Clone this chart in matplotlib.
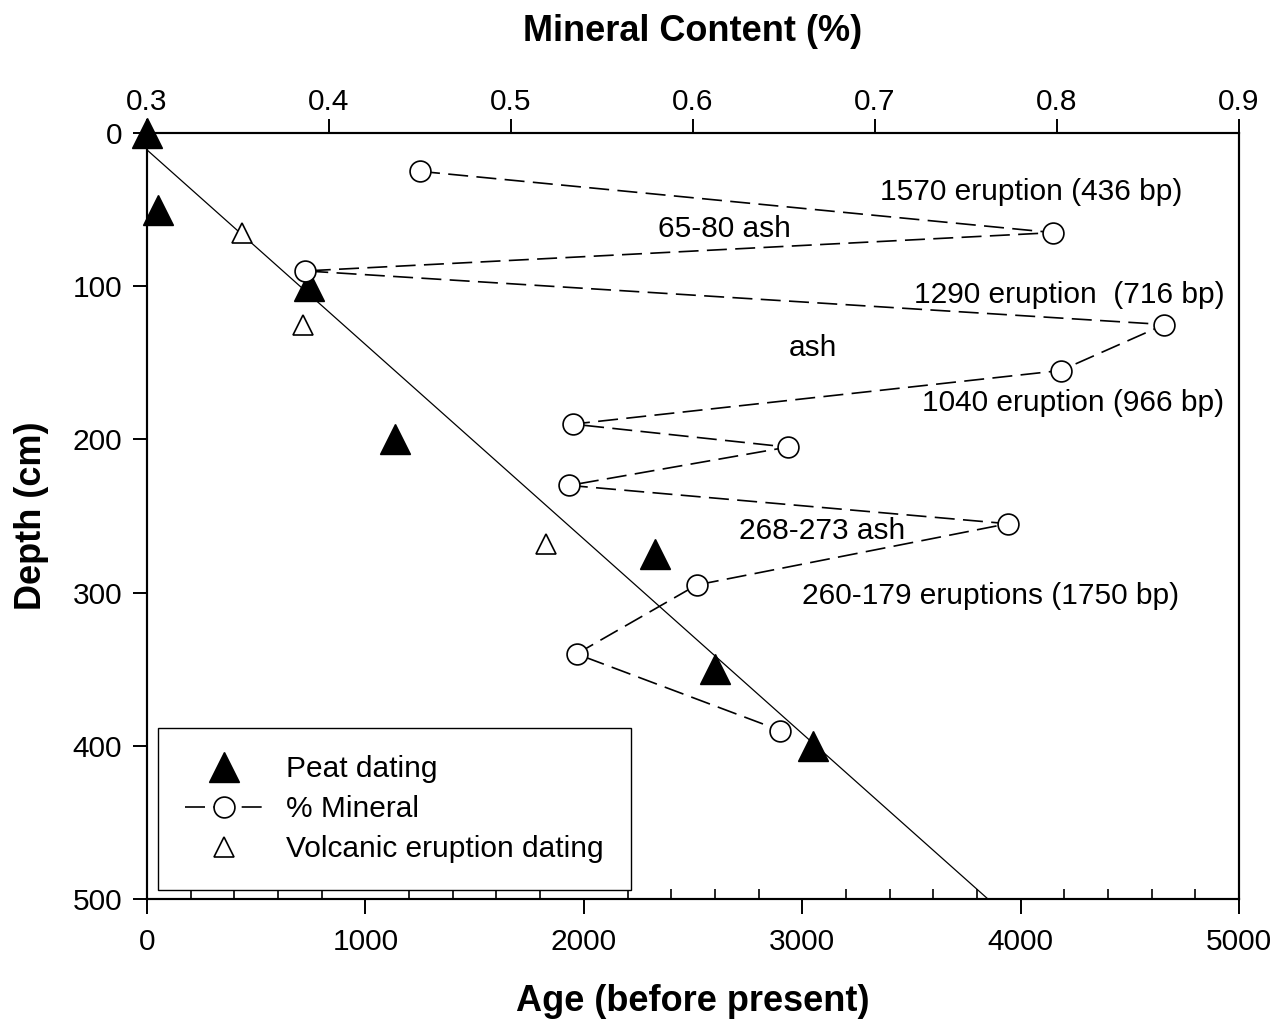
import matplotlib
matplotlib.use("Agg")
import matplotlib.pyplot as plt
from matplotlib.ticker import MultipleLocator, FormatStrFormatter
import numpy as np

plt.rcParams['font.family'] = ['Liberation Sans', 'DejaVu Sans']

# peat dating (age bp, depth cm)
peat_age = [0, 50, 742, 1135, 2326, 2600, 3050]
peat_depth = [0, 50, 100, 200, 275, 350, 400]

# volcanic eruption dating
volc_age = [436, 716, 1827]
volc_depth = [65, 125, 268]

# mineral content profile (fraction, depth cm)
mineral = [0.450, 0.798, 0.387, 0.859, 0.802, 0.534, 0.652, 0.532, 0.773, 0.602, 0.536, 0.648]
mineral_depth = [25, 65, 90, 125, 155, 190, 205, 230, 255, 295, 340, 390]

# age-depth line: depth = fit_b + fit_m * age
fit_b = 11.0
fit_m = 0.127

notes = ["1570 eruption (436 bp)", "65-80 ash", "1290 eruption  (716 bp)", "ash",
         "1040 eruption (966 bp)", "268-273 ash", "260-179 eruptions (1750 bp)"]
note_age = [4048, 2646, 4222, 3050, 4240, 3091, 3860]
note_depth = [38.5, 62.7, 105.7, 140, 176, 260, 302]

fs = 21.5

fig = plt.figure(figsize=(12.86, 10.29), dpi=100)
ax = fig.add_axes([0.1143, 0.1263, 0.8492, 0.7444])
ax2 = ax.twiny()

line_age = np.array([0, 5000])
ax.plot(line_age, fit_b + fit_m * line_age, color='black', lw=0.9, zorder=2)
ax.plot(peat_age, peat_depth, ls='none', marker='^', ms=21, color='black',
        clip_on=False, zorder=4, label='Peat dating')
ax.plot(volc_age, volc_depth, ls='none', marker='^', ms=14, mfc='white', mec='black',
        mew=1.2, clip_on=False, zorder=4, label='Volcanic eruption dating')

ax2.plot(mineral, mineral_depth, color='black', lw=1.2, ls=(0, (12, 5)), marker='o', ms=15,
         mfc='white', mec='black', mew=1.2, clip_on=False, label='% Mineral')

for t, a, d in zip(notes, note_age, note_depth):
    ax.text(a, d, t, fontsize=fs, ha='center', va='center', zorder=6)

ax.set_xlim(0, 5000)
ax.set_ylim(500, 0)
ax2.set_xlim(0.3, 0.9)

ax.xaxis.set_major_locator(MultipleLocator(1000))
ax.xaxis.set_minor_locator(MultipleLocator(200))
ax.yaxis.set_major_locator(MultipleLocator(100))
ax2.xaxis.set_major_locator(MultipleLocator(0.1))
ax2.xaxis.set_major_formatter(FormatStrFormatter('%.1f'))

ax.tick_params(axis='x', which='major', direction='out', length=11, width=1.4,
               labelsize=fs, pad=10)
ax.tick_params(axis='x', which='minor', direction='in', length=7, width=1.2)
ax.tick_params(axis='y', which='major', direction='out', length=10, width=1.4,
               labelsize=fs, pad=8)
ax2.tick_params(axis='x', which='major', direction='out', length=10, width=1.4,
                labelsize=fs, pad=2)

for a in (ax, ax2):
    for s in a.spines.values():
        s.set_linewidth(1.5)

ax.set_xlabel('Age (before present)', fontsize=26, fontweight='bold', labelpad=20)
ax.set_ylabel('Depth (cm)', fontsize=26, fontweight='bold', labelpad=17)
ax2.set_xlabel('Mineral Content (%)', fontsize=26, fontweight='bold', labelpad=34)

h1, l1 = ax.get_legend_handles_labels()
h2, l2 = ax2.get_legend_handles_labels()
leg = ax2.legend([h1[0], h2[0], h1[1]], [l1[0], l2[0], l1[1]], loc='lower left',
                 bbox_to_anchor=(0.01, 0.012), fontsize=fs, fancybox=False,
                 edgecolor='black', framealpha=1, borderpad=0.9, labelspacing=0.4,
                 handlelength=2.6, handletextpad=0.8, borderaxespad=0)
leg.get_frame().set_linewidth(1.0)
leg.set_zorder(10)

fig.savefig('out.png', dpi=100)
